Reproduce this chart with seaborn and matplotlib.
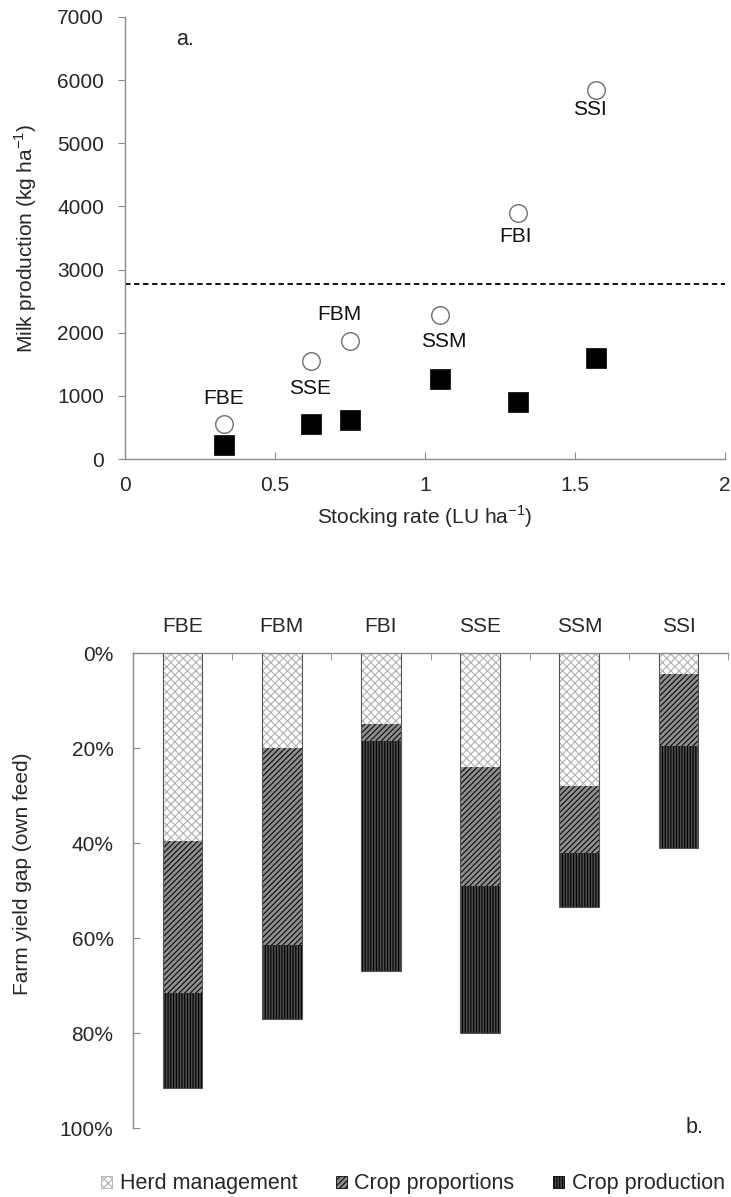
import numpy as np
import pandas as pd
import matplotlib
matplotlib.use("Agg")
import matplotlib.pyplot as plt
import seaborn as sns
from matplotlib.patches import Patch
from matplotlib.ticker import PercentFormatter

# ---- data -------------------------------------------------------------
farms = ["FBE", "SSE", "FBM", "SSM", "FBI", "SSI"]
stocking_rate = [0.33, 0.62, 0.75, 1.05, 1.31, 1.57]
milk_own_feed_potential = [560, 1550, 1870, 2275, 3900, 5845]
milk_own_feed_actual = [220, 548, 620, 1265, 905, 1605]
reference_milk = 2770

gap_farms = ["FBE", "FBM", "FBI", "SSE", "SSM", "SSI"]
herd_management = [39.5, 20.0, 15.0, 24.0, 28.0, 4.5]
crop_proportions = [32.0, 41.5, 3.5, 25.0, 14.0, 15.0]
crop_production = [20.0, 15.5, 48.5, 31.0, 11.5, 21.5]

# ---- style ------------------------------------------------------------
sns.set_style("white")
plt.rcParams["font.family"] = ["Liberation Sans", "DejaVu Sans"]
plt.rcParams["font.size"] = 15
plt.rcParams["hatch.linewidth"] = 0.8
AX_GREY = "#8a8a8a"
FS = 15

fig = plt.figure(figsize=(7.31, 11.97), dpi=100)

# ---- panel a: milk production vs stocking rate ------------------------
ax1 = fig.add_axes([0.171, 0.6165, 0.821, 0.3693])
pts = pd.DataFrame({
    "farm": farms,
    "sr": stocking_rate,
    "potential": milk_own_feed_potential,
    "actual": milk_own_feed_actual,
})
sns.scatterplot(data=pts, x="sr", y="potential", marker="o", s=160,
                facecolor="white", edgecolor="#6e6e6e", linewidth=1.0,
                ax=ax1, zorder=3)
sns.scatterplot(data=pts, x="sr", y="actual", marker="s", s=190,
                color="black", edgecolor="black", linewidth=0.5,
                ax=ax1, zorder=3)
ax1.axhline(reference_milk, color="black", lw=1.3, ls=(0, (3, 2)), zorder=2)

# text offsets (x, y in data units) for each farm label
label_offsets = {
    "FBE": (0.0, 395), "SSE": (-0.004, -426), "FBM": (-0.034, 424),
    "SSM": (0.013, -411), "FBI": (-0.01, -375), "SSI": (-0.021, -314),
}
for f, x, y in zip(farms, stocking_rate, milk_own_feed_potential):
    dx, dy = label_offsets[f]
    ax1.text(x + dx, y + dy, f, ha="center", va="center", fontsize=FS,
             color="#111111")
ax1.text(0.17, 6640, "a.", ha="left", va="center", fontsize=FS + 0.5)

ax1.set_xlim(0, 2)
ax1.set_ylim(0, 7000)
ax1.set_xticks([0, 0.5, 1, 1.5, 2])
ax1.set_xticklabels(["0", "0.5", "1", "1.5", "2"])
ax1.set_yticks(np.arange(0, 7001, 1000))
ax1.set_xlabel("Stocking rate (LU ha$^{\\mathregular{-1}}$)", fontsize=FS,
               labelpad=6)
ax1.set_ylabel("Milk production (kg ha$^{\\mathregular{-1}}$)", fontsize=FS)
ax1.yaxis.set_label_coords(-0.143, 0.5)
for s in ["top", "right"]:
    ax1.spines[s].set_visible(False)
for s in ["left", "bottom"]:
    ax1.spines[s].set_color(AX_GREY)
    ax1.spines[s].set_linewidth(1.0)
ax1.tick_params(axis="y", direction="out", length=5, color=AX_GREY,
                labelsize=FS, left=True, pad=10)
ax1.tick_params(axis="x", direction="in", length=5, color=AX_GREY,
                labelsize=FS, bottom=True, pad=12)

# ---- panel b: farm yield gap decomposition -----------------------------
ax2 = fig.add_axes([0.182, 0.0576, 0.814, 0.3968])
gap = pd.DataFrame({
    "farm": gap_farms,
    "herd": np.array(herd_management) / 100,
    "prop": np.array(crop_proportions) / 100,
    "prod": np.array(crop_production) / 100,
})
gap["to_prop"] = gap["herd"] + gap["prop"]
gap["to_prod"] = gap["to_prop"] + gap["prod"]

layers = [
    ("to_prod", "#4a4a4a", "#000000", "||||||", "Crop production"),
    ("to_prop", "#8e8e8e", "#0a0a0a", "//////", "Crop proportions"),
    ("herd", "white", "#b0b0b0", "xxxx", "Herd management"),
]
for col, fc, hc, hatch, _ in layers:
    sns.barplot(data=gap, x="farm", y=col, order=gap_farms, color=fc,
                saturation=1, width=0.4, hatch=hatch, edgecolor=hc,
                linewidth=0.0, ax=ax2)
# thin outline around each full bar
sns.barplot(data=gap, x="farm", y="to_prod", order=gap_farms, fill=False,
            width=0.4, edgecolor="#555555", linewidth=0.8, ax=ax2)

ax2.set_xlim(-0.5, 5.5)
ax2.set_ylim(1.0, 0.0)
ax2.xaxis.tick_top()
ax2.set_xticks(range(len(gap_farms)))
ax2.set_xticklabels(gap_farms, fontsize=FS)
ax2.set_xticks(np.arange(0.5, 6.0, 1.0), minor=True)
ax2.tick_params(axis="x", which="major", length=0, pad=12)
ax2.tick_params(axis="x", which="minor", length=5, direction="in",
                color=AX_GREY, top=True)
ax2.set_xlabel("")
ax2.set_yticks(np.arange(0, 1.01, 0.2))
ax2.yaxis.set_major_formatter(PercentFormatter(1.0, decimals=0))
ax2.tick_params(axis="y", direction="in", length=5, color=AX_GREY,
                labelsize=FS, left=True, pad=14)
ax2.set_ylabel("Farm yield gap (own feed)", fontsize=FS)
ax2.yaxis.set_label_coords(-0.17, 0.535)
for s in ["bottom", "right"]:
    ax2.spines[s].set_visible(False)
for s in ["left", "top"]:
    ax2.spines[s].set_color(AX_GREY)
    ax2.spines[s].set_linewidth(1.0)
ax2.text(5.165, 0.998, "b.", ha="center", va="center", fontsize=FS + 0.5)

handles = [Patch(facecolor=fc, edgecolor=hc, hatch=h, linewidth=0.6, label=lab)
           for _, fc, hc, h, lab in layers[::-1]]
fig.legend(handles=handles, loc="center", bbox_to_anchor=(0.565, 0.011),
           ncol=3, frameon=False, fontsize=15.5, handlelength=0.5,
           handleheight=0.5, handletextpad=0.35, columnspacing=1.8,
           borderaxespad=0, borderpad=0)

fig.savefig("out.png", dpi=100)
